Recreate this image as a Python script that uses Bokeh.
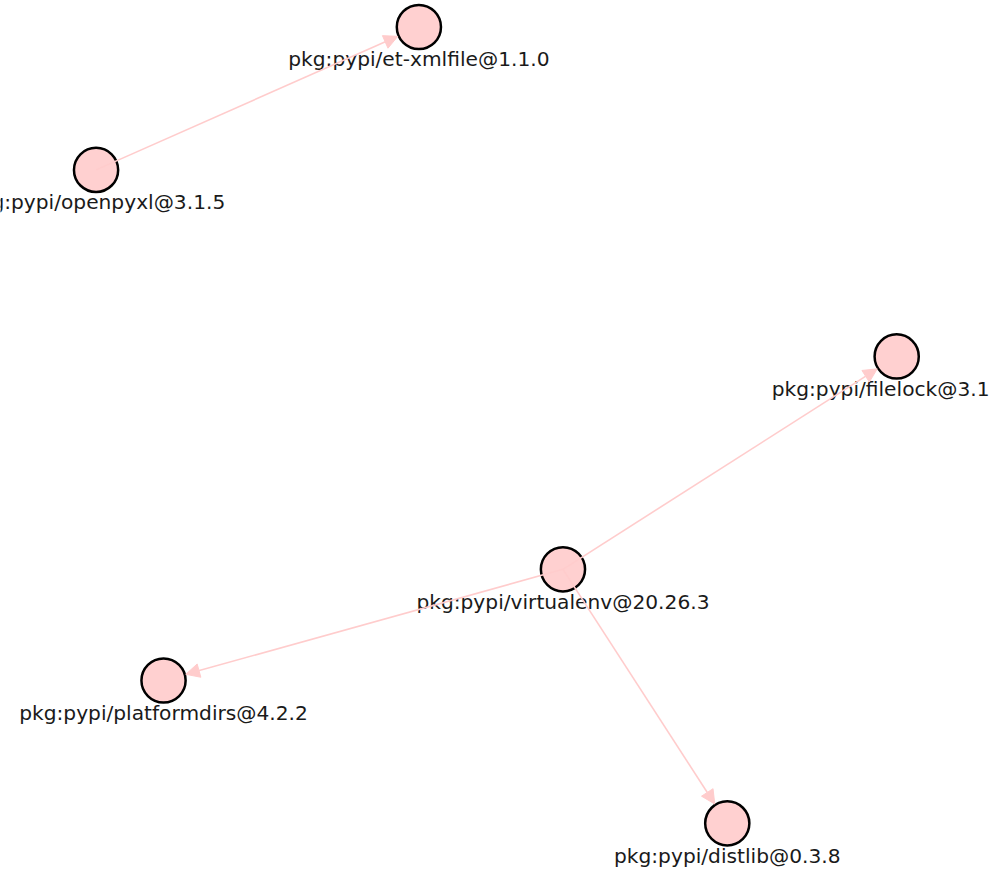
from bokeh.plotting import figure
from bokeh.models import ColumnDataSource, Range1d, Arrow, NormalHead
from bokeh.core.properties import value
from bokeh.embed import file_html
from bokeh.resources import INLINE

# Node layout (graph layout coordinates, y up)
node_names = [
    "pkg:pypi/et-xmlfile@1.1.0",
    "pkg:pypi/openpyxl@3.1.5",
    "pkg:pypi/filelock@3.15.4",
    "pkg:pypi/virtualenv@20.26.3",
    "pkg:pypi/platformdirs@4.2.2",
    "pkg:pypi/distlib@0.3.8",
]
node_x = [426, 97.3, 912.5, 572.7, 166, 740]
node_y = [859, 713.5, 523.5, 306.7, 193.5, 48]

# Dependency edges (source -> target)
edge_src = ["pkg:pypi/openpyxl@3.1.5", "pkg:pypi/virtualenv@20.26.3",
            "pkg:pypi/virtualenv@20.26.3", "pkg:pypi/virtualenv@20.26.3"]
edge_dst = ["pkg:pypi/et-xmlfile@1.1.0", "pkg:pypi/filelock@3.15.4",
            "pkg:pypi/platformdirs@4.2.2", "pkg:pypi/distlib@0.3.8"]

# layout extent
X_MAX, Y_MAX = 1007, 886
H = 870
S = H / Y_MAX
W = int(round(X_MAX * S))
NODE_R = 23.5  # node radius in layout units

p = figure(width=W, height=H, output_backend="svg", toolbar_location=None,
           x_range=Range1d(0, X_MAX), y_range=Range1d(0, Y_MAX),
           min_border=0)
p.axis.visible = False
p.xgrid.visible = False
p.ygrid.visible = False
p.outline_line_color = None
p.background_fill_color = "white"
p.border_fill_color = "white"

pos = {n: (x, y) for n, x, y in zip(node_names, node_x, node_y)}
xs, ys, xe, ye = [], [], [], []
for s, d in zip(edge_src, edge_dst):
    x0, y0 = pos[s]
    x1, y1 = pos[d]
    dx, dy = x1 - x0, y1 - y0
    L = (dx * dx + dy * dy) ** 0.5
    xs.append(x0)
    ys.append(y0)
    xe.append(x1 - dx / L * NODE_R)
    ye.append(y1 - dy / L * NODE_R)

edge_cds = ColumnDataSource(dict(x_start=xs, y_start=ys, x_end=xe, y_end=ye))
edge_color = "#ffcccc"
p.add_layout(Arrow(source=edge_cds, x_start="x_start", y_start="y_start",
                   x_end="x_end", y_end="y_end",
                   line_color=edge_color, line_width=1.6,
                   end=NormalHead(size=14 * S, fill_color=edge_color,
                                  line_color=edge_color, line_width=1)))

nodes = ColumnDataSource(dict(x=node_x, y=node_y, name=node_names))
p.scatter("x", "y", source=nodes, size=45 * S, fill_color="#ffd0d0",
          line_color="black", line_width=2.5)
p.text("x", "y", text="name", source=nodes, text_font=value("DejaVu Sans"),
       text_font_size=f"{20.6 * S:.1f}px", text_color="#1a1a1a", text_align="center",
       text_baseline="alphabetic", y_offset=33 * S)

open("out.html", "w").write(file_html(p, INLINE))
